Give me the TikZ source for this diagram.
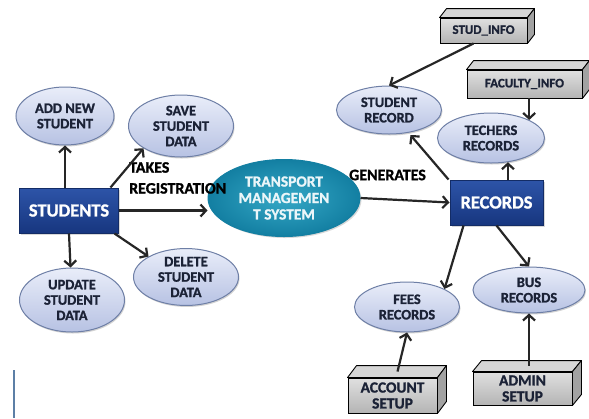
\documentclass[tikz,border=0pt]{standalone}
\usepackage{fontspec}
\setmainfont{Carlito}[BoldFeatures={FakeBold=1.2}]
\usetikzlibrary{shapes.geometric,arrows.meta,shadows,calc}
\definecolor{ellA}{HTML}{E9EDF9}
\definecolor{ellB}{HTML}{B7C2E3}
\definecolor{ellline}{HTML}{6E7FA6}
\definecolor{ink}{HTML}{1B2236}
\definecolor{navyA}{HTML}{2D54A8}
\definecolor{navyB}{HTML}{17367F}
\definecolor{navyline}{HTML}{132C66}
\definecolor{tealIn}{HTML}{35A8C6}
\definecolor{tealOut}{HTML}{137FA2}
\definecolor{greyA}{HTML}{E0E0E0}
\definecolor{greyB}{HTML}{B4B4B4}
\definecolor{greytop}{HTML}{D6D6D6}
\definecolor{greyside}{HTML}{A2A2A2}
\definecolor{arrowc}{HTML}{262626}
\definecolor{artline}{HTML}{5C7FA6}
\newcommand\ellfont{\bfseries\fontsize{14.5}{15.5}\selectfont}
\newcommand\bigfont{\bfseries\fontsize{18.5}{20}\selectfont}
\newcommand\tmsfont{\bfseries\fontsize{15.5}{16.5}\selectfont}
\newcommand\lblfont{\bfseries\fontsize{16}{21}\selectfont}
\newcommand\boxfont{\bfseries\fontsize{13}{14}\selectfont}
\newcommand\bigboxfont{\bfseries\fontsize{15.5}{16}\selectfont}
\tikzset{
  ell/.style={ellipse, draw=ellline, line width=1bp, top color=ellA, bottom color=ellB,
    inner sep=0pt, align=center, font=\ellfont, text=ink,
    drop shadow={shadow xshift=1bp, shadow yshift=-1.5bp, opacity=0.35}},
  darkbox/.style={rectangle, draw=navyline, line width=1bp, top color=navyA, bottom color=navyB,
    text=white, font=\bigfont, inner sep=0pt,
    drop shadow={shadow xshift=1.5bp, shadow yshift=-1.5bp, opacity=0.3}},
  tms/.style={ellipse, inner color=tealIn, outer color=tealOut, draw=tealOut, line width=1bp,
    text=white!90!tealIn, font=\tmsfont, align=center, inner sep=0pt,
    drop shadow={shadow xshift=1.5bp, shadow yshift=-1.5bp, opacity=0.3}},
  cube/.style={rectangle, draw=black, line width=0.9bp, top color=greyA, bottom color=greyB,
    inner sep=0pt, align=center, text=ink},
  face/.style={draw=black, line width=0.9bp, line join=round},
  arr/.style={draw=arrowc, line width=2.2bp, -{Straight Barb[length=5.5bp,width=12bp]}},
  lbl/.style={font=\lblfont, text=black, align=left, inner sep=0pt}
}
\begin{document}
\begin{tikzpicture}[x=1bp,y=-1bp]
\fill[white] (0,0) rectangle (589,418);
\useasboundingbox (0,0) rectangle (589,418);

% left side
\node[darkbox, minimum width=98bp, minimum height=45bp] (students) at (69,210.5) {STUDENTS};
\node[ell, minimum width=98bp, minimum height=58bp] (addnew) at (65,116) {ADD NEW\\STUDENT};
\node[ell, minimum width=105bp, minimum height=62bp] (save) at (181,126) {SAVE\\STUDENT\\DATA};
\node[ell, minimum width=105bp, minimum height=64bp] (update) at (72,300) {UPDATE\\STUDENT\\DATA};
\node[ell, minimum width=105bp, minimum height=54bp] (delete) at (186,277) {DELETE\\STUDENT\\DATA};
\node[tms, minimum width=152bp, minimum height=77bp] (tms) at (284,198) {TRANSPORT\\MANAGEMEN\\T SYSTEM};

% right side
\node[darkbox, minimum width=93bp, minimum height=45bp] (records) at (496.5,202.5) {RECORDS};
\node[ell, minimum width=105bp, minimum height=48bp] (studrec) at (389,110) {STUDENT\\RECORD};
\node[ell, minimum width=107bp, minimum height=50bp] (techers) at (491,138) {TECHERS\\RECORDS};
\node[ell, minimum width=105bp, minimum height=50bp] (fees) at (407,307) {FEES\\RECORDS};
\node[ell, minimum width=112bp, minimum height=46bp] (bus) at (529,290) {BUS\\RECORDS};

% 3D boxes
\node[cube, font=\boxfont, minimum width=87bp, minimum height=25bp] (studinfo) at (483.5,30.5) {STUD\_INFO};
\node[cube, font=\boxfont, minimum width=115bp, minimum height=28bp] (facinfo) at (524.5,84) {FACULTY\_INFO};
\node[cube, font=\bigboxfont, minimum width=89bp, minimum height=35bp] (account) at (392.5,395.5) {ACCOUNT\\SETUP};
\node[cube, font=\bigboxfont, minimum width=99bp, minimum height=33bp] (admin) at (522.5,388.5) {ADMIN\\SETUP};
\foreach \n/\dx/\dy in {studinfo/7/9, facinfo/7/9, account/9/12, admin/9/11}{
  \filldraw[face, fill=greytop] (\n.north west) -- ++(\dx,-\dy) -- ($(\n.north east)+(\dx,-\dy)$) -- (\n.north east) -- cycle;
  \filldraw[face, fill=greyside] (\n.north east) -- ++(\dx,-\dy) -- ($(\n.south east)+(\dx,-\dy)$) -- (\n.south east) -- cycle;
}

% labels
\node[lbl, anchor=north west] (takes) at (129,162) {TAKES\\REGISTRATION};
\node[lbl] (generates) at (387.5,175) {GENERATES};

% connectors
\draw[arr] (students.north -| addnew) -- (addnew);
\draw[arr] ([xshift=-8bp]students.north east) -- (save.south west);
\draw[arr] (students.east) -- (students.east -| tms.west);
\draw[arr] (students.south) -- (update);
\draw[arr] ([xshift=-4bp]students.south east) -- (delete.north west);
\draw[arr] (tms.east) -- (records.west);
\draw[arr, shorten >=3bp] ([xshift=-1bp]records.north west) -- (studrec);
\draw[arr] (records.north -| techers.-55) -- (techers.-55);
\draw[arr] ([xshift=-10bp]studinfo.south) -- (studrec.north);
\draw[arr] (facinfo.south -| techers.north east) -- (techers.north east);
\draw[arr] ([xshift=-33bp]records.south) -- (fees.north east);
\draw[arr] (records.south) -- (bus.north);
\draw[arr] ($(account.north)+(5,-6)$) -- (fees.south);
\draw[arr] ($(admin.north -| bus.south)+(0,-6)$) -- (bus.south);

% stray mark at lower left
\coordinate (artA) at (14,370);
\coordinate (artB) at (14,418);
\draw[artline, line width=1.5bp] (artA) -- (artB);
\end{tikzpicture}
\end{document}
